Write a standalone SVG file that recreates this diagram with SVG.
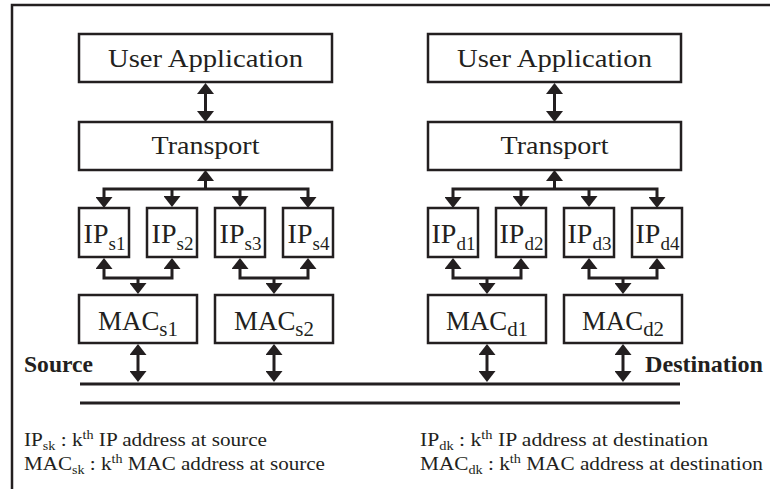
<svg xmlns="http://www.w3.org/2000/svg" width="770" height="489" viewBox="0 0 770 489">
  <style>
    .box { fill: #ffffff; stroke: #231f20; stroke-width: 2.5; }
    .frame { fill: none; stroke: #231f20; stroke-width: 2.5; }
    .wire { fill: none; stroke: #231f20; stroke-width: 3; stroke-linejoin: miter; }
    .bus { fill: none; stroke: #231f20; stroke-width: 3; }
    text { font-family: "Liberation Serif", "Times New Roman", serif; fill: #231f20; }
    .lbl { font-size: 26px; text-anchor: middle; }
    .ip { font-size: 28px; text-anchor: middle; }
    .mac { font-size: 27px; text-anchor: middle; }
    .sub { font-size: 19px; }
    .msub { font-size: 21px; }
    .side { font-size: 23px; font-weight: bold; }
    .key { font-size: 18px; }
    .ks { font-size: 12px; }
  </style>
  <defs>
    <marker id="head" viewBox="0 0 11 17" refX="0" refY="8.5" markerWidth="11" markerHeight="17" markerUnits="userSpaceOnUse" orient="auto-start-reverse">
      <path d="M0,0 L11,8.5 L0,17 Z" fill="#231f20"/>
    </marker>
  </defs>

  <rect width="770" height="489" fill="#ffffff"/>
  <path class="frame" d="M12,489 V5 H770"/>

  <!-- source host -->
  <g id="src-app"><rect class="box" x="79" y="34" width="253" height="48"/><text class="lbl" x="205.5" y="67" textLength="195" lengthAdjust="spacingAndGlyphs">User Application</text></g>
  <g id="src-transport"><rect class="box" x="79" y="122" width="253" height="48"/><text class="lbl" x="205.5" y="154" textLength="108" lengthAdjust="spacingAndGlyphs">Transport</text></g>
  <g id="src-ip1"><rect class="box" x="79" y="208" width="50" height="49"/><text class="ip" x="104.5" y="243">IP<tspan class="sub" dy="7">s1</tspan></text></g>
  <g id="src-ip2"><rect class="box" x="147" y="208" width="50" height="49"/><text class="ip" x="172.5" y="243">IP<tspan class="sub" dy="7">s2</tspan></text></g>
  <g id="src-ip3"><rect class="box" x="215" y="208" width="50" height="49"/><text class="ip" x="240.5" y="243">IP<tspan class="sub" dy="7">s3</tspan></text></g>
  <g id="src-ip4"><rect class="box" x="283" y="208" width="50" height="49"/><text class="ip" x="308.5" y="243">IP<tspan class="sub" dy="7">s4</tspan></text></g>
  <g id="src-mac1"><rect class="box" x="79" y="295" width="118" height="48"/><text class="mac" x="138" y="330" textLength="80" lengthAdjust="spacingAndGlyphs">MAC<tspan class="msub" dy="6">s1</tspan></text></g>
  <g id="src-mac2"><rect class="box" x="215" y="295" width="118" height="48"/><text class="mac" x="274" y="330" textLength="80" lengthAdjust="spacingAndGlyphs">MAC<tspan class="msub" dy="6">s2</tspan></text></g>

  <!-- destination host -->
  <g id="dst-app"><rect class="box" x="428" y="34" width="253" height="48"/><text class="lbl" x="554.5" y="67" textLength="195" lengthAdjust="spacingAndGlyphs">User Application</text></g>
  <g id="dst-transport"><rect class="box" x="428" y="122" width="253" height="48"/><text class="lbl" x="554.5" y="154" textLength="108" lengthAdjust="spacingAndGlyphs">Transport</text></g>
  <g id="dst-ip1"><rect class="box" x="428" y="208" width="50" height="49"/><text class="ip" x="453.5" y="243">IP<tspan class="sub" dy="7">d1</tspan></text></g>
  <g id="dst-ip2"><rect class="box" x="496" y="208" width="50" height="49"/><text class="ip" x="521.5" y="243">IP<tspan class="sub" dy="7">d2</tspan></text></g>
  <g id="dst-ip3"><rect class="box" x="564" y="208" width="50" height="49"/><text class="ip" x="589.5" y="243">IP<tspan class="sub" dy="7">d3</tspan></text></g>
  <g id="dst-ip4"><rect class="box" x="632" y="208" width="50" height="49"/><text class="ip" x="657.5" y="243">IP<tspan class="sub" dy="7">d4</tspan></text></g>
  <g id="dst-mac1"><rect class="box" x="428" y="295" width="118" height="48"/><text class="mac" x="487" y="330" textLength="82" lengthAdjust="spacingAndGlyphs">MAC<tspan class="msub" dy="6">d1</tspan></text></g>
  <g id="dst-mac2"><rect class="box" x="564" y="295" width="118" height="48"/><text class="mac" x="623" y="330" textLength="82" lengthAdjust="spacingAndGlyphs">MAC<tspan class="msub" dy="6">d2</tspan></text></g>

  <!-- shared medium -->
  <g id="medium">
    <line class="bus" x1="80" y1="384" x2="680" y2="384"/>
    <line class="bus" x1="80" y1="403" x2="680" y2="403"/>
    <text class="side" x="24" y="372" textLength="69" lengthAdjust="spacingAndGlyphs">Source</text>
    <text class="side" x="645" y="372" textLength="118" lengthAdjust="spacingAndGlyphs">Destination</text>
  </g>

  <g id="connectors">
    <!-- application <-> transport -->
    <path class="wire" d="M205.5,94 V111" marker-start="url(#head)" marker-end="url(#head)"/>
    <path class="wire" d="M554.5,94 V111" marker-start="url(#head)" marker-end="url(#head)"/>
    <!-- transport <-> IP fan-out, source -->
    <path class="wire" d="M205.5,189 V181" marker-end="url(#head)"/>
    <path class="wire" d="M104,197 V189 H308 V197" marker-start="url(#head)" marker-end="url(#head)"/>
    <path class="wire" d="M172,189 V196" marker-end="url(#head)"/>
    <path class="wire" d="M240,189 V196" marker-end="url(#head)"/>
    <!-- transport <-> IP fan-out, destination -->
    <path class="wire" d="M554.5,189 V181" marker-end="url(#head)"/>
    <path class="wire" d="M453,197 V189 H657 V197" marker-start="url(#head)" marker-end="url(#head)"/>
    <path class="wire" d="M521,189 V196" marker-end="url(#head)"/>
    <path class="wire" d="M589,189 V196" marker-end="url(#head)"/>
    <!-- IP pairs <-> MAC -->
    <path class="wire" d="M104,269 V278 H172 V269" marker-start="url(#head)" marker-end="url(#head)"/>
    <path class="wire" d="M138,278 V283" marker-end="url(#head)"/>
    <path class="wire" d="M240,269 V278 H308 V269" marker-start="url(#head)" marker-end="url(#head)"/>
    <path class="wire" d="M274,278 V283" marker-end="url(#head)"/>
    <path class="wire" d="M453,269 V278 H521 V269" marker-start="url(#head)" marker-end="url(#head)"/>
    <path class="wire" d="M487,278 V283" marker-end="url(#head)"/>
    <path class="wire" d="M589,269 V278 H657 V269" marker-start="url(#head)" marker-end="url(#head)"/>
    <path class="wire" d="M623,278 V283" marker-end="url(#head)"/>
    <!-- MAC <-> medium -->
    <path class="wire" d="M138,355 V371" marker-start="url(#head)" marker-end="url(#head)"/>
    <path class="wire" d="M274,355 V371" marker-start="url(#head)" marker-end="url(#head)"/>
    <path class="wire" d="M487,355 V371" marker-start="url(#head)" marker-end="url(#head)"/>
    <path class="wire" d="M623,355 V371" marker-start="url(#head)" marker-end="url(#head)"/>
  </g>

  <!-- key -->
  <g id="key">
    <text class="key" x="24" y="446" textLength="243" lengthAdjust="spacingAndGlyphs">IP<tspan class="ks" dy="4">sk</tspan><tspan dy="-4"> : k</tspan><tspan class="ks" dy="-7">th</tspan><tspan dy="7"> IP address at source</tspan></text>
    <text class="key" x="24" y="470" textLength="301" lengthAdjust="spacingAndGlyphs">MAC<tspan class="ks" dy="4">sk</tspan><tspan dy="-4"> : k</tspan><tspan class="ks" dy="-7">th</tspan><tspan dy="7"> MAC address at source</tspan></text>
    <text class="key" x="420" y="446" textLength="288" lengthAdjust="spacingAndGlyphs">IP<tspan class="ks" dy="4">dk</tspan><tspan dy="-4"> : k</tspan><tspan class="ks" dy="-7">th</tspan><tspan dy="7"> IP address at destination</tspan></text>
    <text class="key" x="420" y="470" textLength="343" lengthAdjust="spacingAndGlyphs">MAC<tspan class="ks" dy="4">dk</tspan><tspan dy="-4"> : k</tspan><tspan class="ks" dy="-7">th</tspan><tspan dy="7"> MAC address at destination</tspan></text>
  </g>
</svg>
